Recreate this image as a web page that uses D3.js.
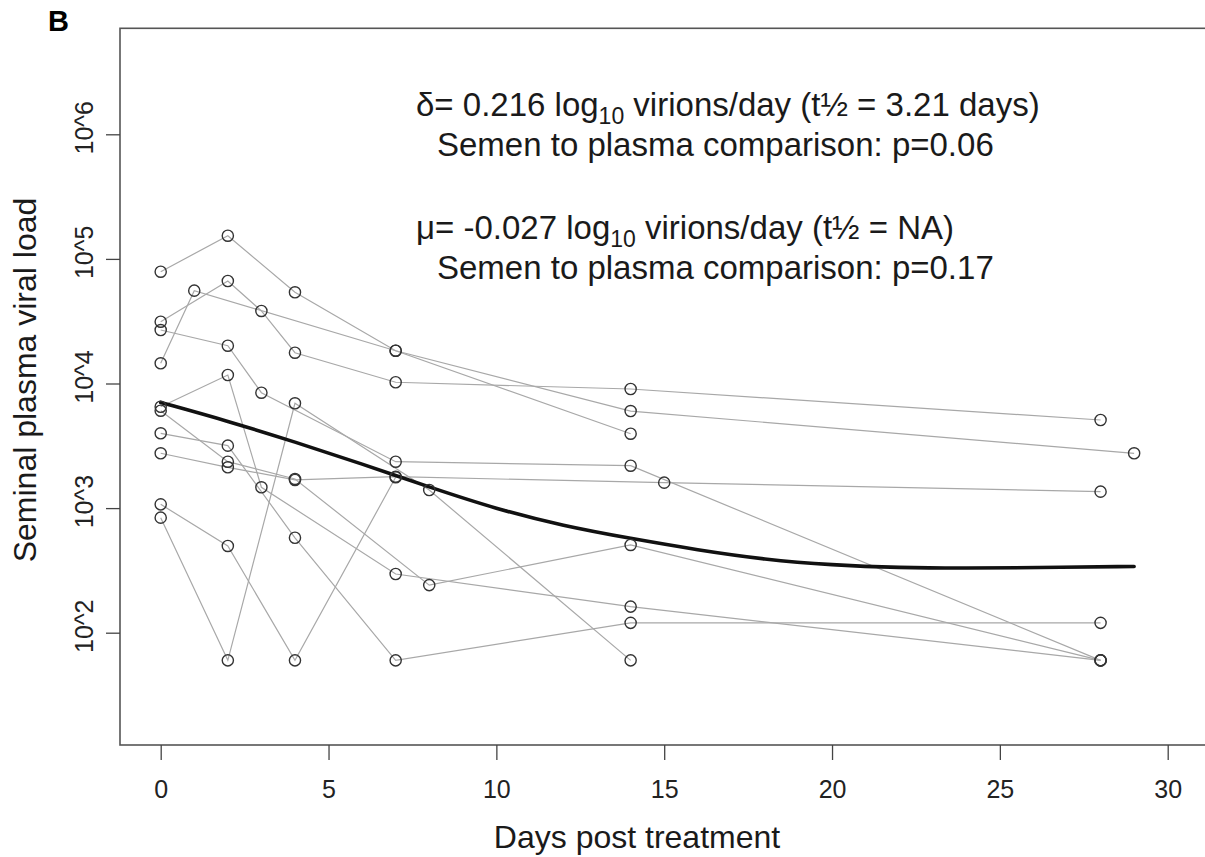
<!DOCTYPE html>
<html>
<head>
<meta charset="utf-8">
<script src="https://cdn.jsdelivr.net/npm/d3@7"></script>
<style>
  html, body { margin: 0; padding: 0; background: #fff; }
  svg { display: block; font-family: "Liberation Sans", Arial, Helvetica, sans-serif; }
</style>
</head>
<body>
<svg id="chart" width="1205" height="857"></svg>
<script>
// ---------------- data ----------------
// sampling days per subject
const subjectDays = [
  [0, 2, 4, 7, 14],
  [0, 2, 3, 4, 7, 14, 28],
  [0, 1, 7, 14, 29],
  [0, 2, 3, 7, 14, 28],
  [0, 2, 3, 7, 14, 28],
  [0, 2, 4, 8, 14, 28],
  [0, 2, 4, 7, 14, 28],
  [0, 2, 4, 7, 15, 28],
  [0, 2, 4, 7],
  [0, 2, 4, 8, 14]
];
// seminal plasma viral load (copies) per subject, same order as subjectDays
const subjectLoads = [
  [78900, 153500, 53950, 18330, 3955],
  [31330, 66500, 38200, 17660, 10230, 9030, 5095],
  [14520, 55600, 18330, 6010, 2754],
  [26860, 20100, 8440, 2357, 2190, 60],
  [6510, 11700, 1469, 296, 162, 60],
  [6050, 2357, 1713, 241, 506, 60],
  [3985, 3170, 578, 60, 120, 120],
  [2754, 2125, 1683, 1786, 1600, 1355],
  [1072, 497, 60, 1767],
  [838, 60, 6935, 1397, 60]
];
// fitted population curve
const fitDays  = [0, 2, 4, 6, 8, 10, 12, 14, 16, 18, 20, 22, 24, 26, 29];
const fitLoads = [7047, 5000, 3396, 2259, 1476, 984, 718, 570, 461, 386, 349, 332, 329, 333, 340];

const xTicks = [0, 5, 10, 15, 20, 25, 30];
const yTicks = [1e2, 1e3, 1e4, 1e5, 1e6];
const yTickLabels = ["10^2", "10^3", "10^4", "10^5", "10^6"];

const xTitle = "Days post treatment";
const yTitle = "Seminal plasma viral load";
const panelLabel = "B";

// ---------------- layout ----------------
const svg = d3.select("#chart");
const box = { left: 120, top: 28.3, right: 1212, bottom: 745 };

const x = d3.scaleLinear().domain([0, 30]).range([160.7, 1167.7]);
const y = d3.scaleLog().domain([1e2, 1e6]).range([632.7, 134.3]);

// lines per subject
const line = d3.line().x(d => x(d[0])).y(d => y(d[1]));
const subjects = subjectDays.map((ds, i) => ds.map((d, j) => [d, subjectLoads[i][j]]));

svg.append("g")
  .selectAll("path")
  .data(subjects)
  .join("path")
  .attr("d", line)
  .attr("fill", "none")
  .attr("stroke", "#a8a8a8")
  .attr("stroke-width", 1.2);

// fitted curve
const fit = fitDays.map((d, i) => [d, fitLoads[i]]);
svg.append("path")
  .datum(fit)
  .attr("d", d3.line().x(d => x(d[0])).y(d => y(d[1])).curve(d3.curveBasis))
  .attr("fill", "none")
  .attr("stroke", "#111")
  .attr("stroke-width", 3.6)
  .attr("stroke-linecap", "round");

// points
svg.append("g")
  .selectAll("circle")
  .data(subjects.flat())
  .join("circle")
  .attr("cx", d => x(d[0]))
  .attr("cy", d => y(d[1]))
  .attr("r", 5.6)
  .attr("fill", "none")
  .attr("stroke", "#333")
  .attr("stroke-width", 1.4);

// box
svg.append("rect")
  .attr("x", box.left).attr("y", box.top)
  .attr("width", box.right - box.left).attr("height", box.bottom - box.top)
  .attr("fill", "none").attr("stroke", "#555").attr("stroke-width", 1.6);

// x axis
const gx = svg.append("g")
  .attr("transform", `translate(0,${box.bottom})`)
  .call(d3.axisBottom(x).tickValues(xTicks).tickFormat(d3.format("d")).tickSize(15).tickSizeOuter(0));
gx.select(".domain").remove();
gx.selectAll(".tick line").attr("stroke", "#444").attr("stroke-width", 1.3);
gx.selectAll(".tick text")
  .attr("y", 53).attr("dy", null)
  .attr("fill", "#222")
  .style("font-size", "25px")
  .style("font-family", "'Liberation Sans', Arial, sans-serif");

// y axis
const gy = svg.append("g")
  .attr("transform", `translate(${box.left},0)`)
  .call(d3.axisLeft(y).tickValues(yTicks).tickFormat((d, i) => yTickLabels[i]).tickSize(14).tickSizeOuter(0));
gy.select(".domain").remove();
gy.selectAll(".tick line").attr("stroke", "#444").attr("stroke-width", 1.3);
gy.selectAll(".tick text")
  .attr("x", null).attr("dy", null)
  .attr("text-anchor", "middle")
  .attr("transform", "translate(-27,-7) rotate(-90)")
  .attr("fill", "#222")
  .style("font-size", "25px")
  .style("font-family", "'Liberation Sans', Arial, sans-serif");

// axis titles
svg.append("text")
  .attr("x", 637).attr("y", 848)
  .attr("text-anchor", "middle")
  .attr("fill", "#1a1a1a")
  .style("font-size", "32px")
  .text(xTitle);

svg.append("text")
  .attr("transform", "translate(36,380) rotate(-90)")
  .attr("text-anchor", "middle")
  .attr("fill", "#1a1a1a")
  .style("font-size", "32px")
  .text(yTitle);

// panel label
svg.append("text")
  .attr("x", 48).attr("y", 31)
  .attr("fill", "#000")
  .style("font-size", "29px")
  .style("font-weight", "bold")
  .text(panelLabel);

// annotations
function annot(xPos, yPos, pre, post) {
  const t = svg.append("text")
    .attr("x", xPos).attr("y", yPos)
    .attr("fill", "#1a1a1a")
    .style("font-size", "33px");
  t.append("tspan").text(pre);
  t.append("tspan").attr("dy", 8).style("font-size", "23px").text("10");
  t.append("tspan").attr("dy", -8).text(post);
}
annot(416, 116, "δ= 0.216 log", " virions/day (t½ = 3.21 days)");
svg.append("text").attr("x", 437).attr("y", 156).attr("fill", "#1a1a1a")
  .style("font-size", "33px").text("Semen to plasma comparison: p=0.06");
annot(416, 239, "μ= -0.027 log", " virions/day (t½ = NA)");
svg.append("text").attr("x", 437).attr("y", 279).attr("fill", "#1a1a1a")
  .style("font-size", "33px").text("Semen to plasma comparison: p=0.17");
</script>
</body>
</html>
